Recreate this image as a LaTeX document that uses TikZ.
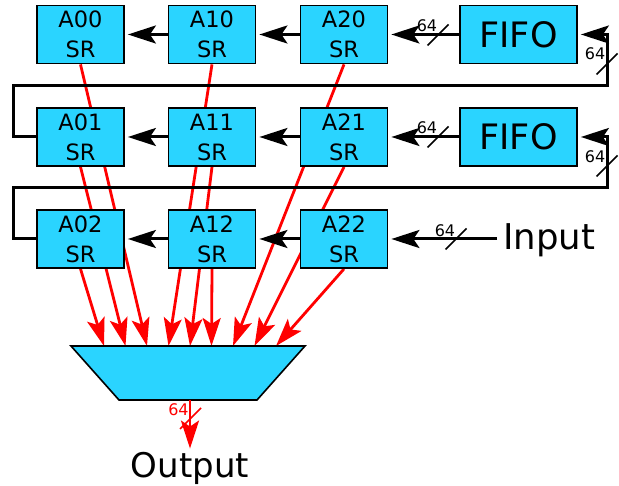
\documentclass[tikz,border=0pt]{standalone}
\usepackage{fontspec}
\setmainfont{DejaVu Sans}
\usetikzlibrary{arrows.meta,calc}
\pgfdeclarelayer{bg}
\pgfsetlayers{bg,main}
\definecolor{boxc}{HTML}{2AD4FF}
\begin{document}
\begin{tikzpicture}[x=1pt,y=-1pt,
  srbox/.style={draw=black,line width=1.8pt,fill=boxc,minimum width=87pt,minimum height=58pt,align=center,inner sep=0pt,font=\fontsize{22.5}{30}\selectfont},
  fifobox/.style={srbox,minimum width=117pt,font=\fontsize{35}{40}\selectfont},
  barr/.style={line width=3pt,draw=black,-{Stealth[length=28pt,width=18pt,inset=6pt]},shorten >=3pt},
  rarr/.style={line width=2.8pt,draw=red,-{Stealth[length=28pt,width=18pt,inset=6pt]}},
  slashmark/.style={line width=1.5pt},
  lbl/.style={font=\fontsize{16}{16}\selectfont,inner sep=0pt},
  bigtxt/.style={inner sep=0pt,anchor=base},
]
\useasboundingbox (0,0) rectangle (619,486);

% boxes
\node[srbox] (A00) at (80.5,34.5) {A00\\SR};
\node[srbox] (A10) at (212,34.5) {A10\\SR};
\node[srbox] (A20) at (344,34.5) {A20\\SR};
\node[fifobox] (F0) at (518.5,34.5) {FIFO};
\node[srbox] (A01) at (80.5,137) {A01\\SR};
\node[srbox] (A11) at (212,137) {A11\\SR};
\node[srbox] (A21) at (344,137) {A21\\SR};
\node[fifobox] (F1) at (518.5,137) {FIFO};
\node[srbox] (A02) at (80.5,239) {A02\\SR};
\node[srbox] (A12) at (212,239) {A12\\SR};
\node[srbox] (A22) at (344,239) {A22\\SR};

\node[bigtxt,anchor=base west,font=\fontsize{35.5}{40}\selectfont] (In) at (503,250) {Input};
\coordinate (inpt) at (497,239);

% multiplexer
\draw[line width=1.6pt,fill=boxc] (71,346) -- (305,346) -- (257,400) -- (119,400) -- cycle;
\foreach \i in {1,...,9} \coordinate (t\i) at ({82.5+21.5*\i},346);
\coordinate (muxout) at (190,400);
\node[bigtxt,font=\fontsize{34}{40}\selectfont] (Out) at (190,478) {Output};

% red connections (behind boxes)
\begin{pgfonlayer}{bg}
\draw[rarr] (A00.south) -- (t3);
\draw[rarr] (A01.south) -- (t2);
\draw[rarr] (A02.south) -- (t1);
\draw[rarr] (A10.south) -- (t4);
\draw[rarr] (A11.south) -- (t5);
\draw[rarr] (A12.south) -- (t6);
\draw[rarr] (A20.south) -- (t7);
\draw[rarr] (A21.south) -- (t8);
\draw[rarr] (A22.south) -- (t9);
\end{pgfonlayer}

% output
\draw[rarr,shorten >=4pt] (muxout) -- (Out.north);
\draw[slashmark,red] (180,429) -- (201,408);
\node[lbl,text=red] (l6) at (178.5,409.5) {64};

% black shift arrows
\draw[barr] (A10.west) -- (A00.east);
\draw[barr] (A20.west) -- (A10.east);
\draw[barr] (F0.west) -- (A20.east);
\draw[barr] (A11.west) -- (A01.east);
\draw[barr] (A21.west) -- (A11.east);
\draw[barr] (F1.west) -- (A21.east);
\draw[barr] (A12.west) -- (A02.east);
\draw[barr] (A22.west) -- (A12.east);
\draw[barr] (inpt) -- (A22.east);

% feedback loops
\draw[barr] (A01.west) -- ++(-23,0) |- (607,86) -- (607,34.5) -- (F0.east);
\draw[barr] (A02.west) -- ++(-23,0) |- (607,188) -- (607,137) -- (F1.east);

% bus width marks
\draw[slashmark] (427.5,45.5) -- ++(21,-21);
\node[lbl] (l1) at (427,26) {64};
\draw[slashmark] (427.5,147.5) -- ++(21,-21);
\node[lbl] (l2) at (427,128) {64};
\draw[slashmark] (445.5,249.5) -- ++(21,-21);
\node[lbl] (l3) at (445,231) {64};
\draw[slashmark] (596.5,74.5) -- ++(21,-21);
\node[lbl] (l4) at (595,54) {64};
\draw[slashmark] (596.5,176.5) -- ++(21,-21);
\node[lbl] (l5) at (595,157) {64};
\end{tikzpicture}
\end{document}
